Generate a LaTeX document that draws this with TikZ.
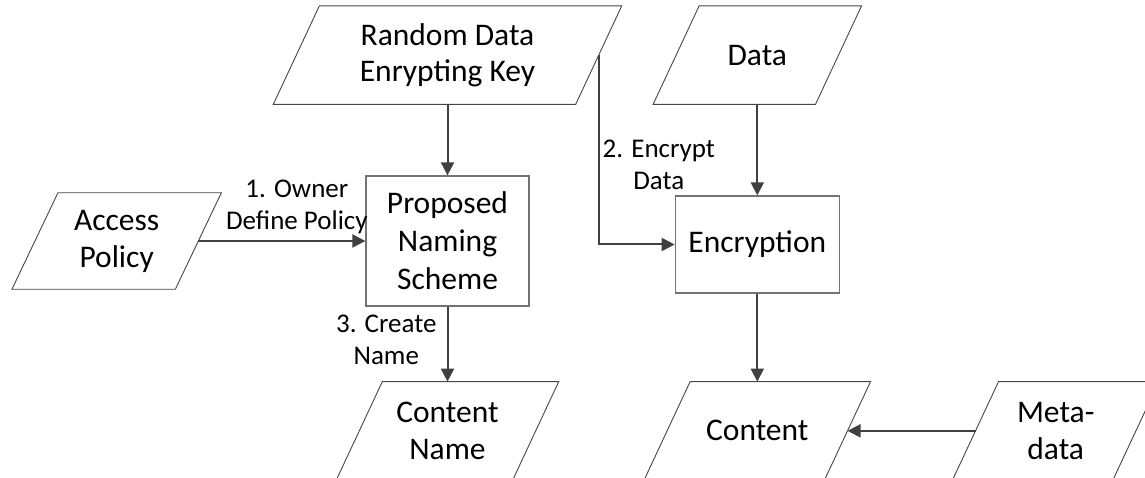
\documentclass[tikz,border=0pt]{standalone}
\usepackage{fontspec}
\setmainfont{Carlito}
\usetikzlibrary{arrows.meta}
\usetikzlibrary{positioning}

\begin{document}
\begin{tikzpicture}[x=1pt, y=1pt,
node distance = 71pt and 167pt,
iobox/.style  = {rectangle, minimum height=98pt, align=center, inner sep=2pt,
                 font=\fontsize{31.5}{37}\selectfont},
ioline/.style = {draw=black!72, line width=0.9pt},
proc/.style   = {rectangle, draw=black!55, line width=1.3pt, align=center,
                 font=\fontsize{31.5}{38}\selectfont},
lbl/.style    = {align=center, inner sep=2pt, font=\fontsize{27}{32}\selectfont},
arr/.style    = {draw=black!75, line width=2pt, -{Triangle[length=13pt,width=13pt]}}
                        ]
\useasboundingbox (0,0) rectangle (1145,-478);
\node (scheme) [proc, minimum width=163pt, minimum height=130pt]
      at (447.5,-241) {Proposed\\Naming\\Scheme};
%
\node (key)    [iobox, above=of scheme, minimum width=302pt,
                font=\fontsize{31.5}{36}\selectfont] {Random Data\\Enrypting Key};
\node (access) [iobox, left=of scheme, minimum width=163pt, minimum height=96pt]
               {Access\\Policy};
\node (cname)  [iobox, below=75pt of scheme, minimum width=176pt] {Content\\Name};
\node (enc)    [proc, right=145pt of scheme, yshift=-3.5pt,
                minimum width=164pt, minimum height=97pt] {Encryption};
\node (data)   [iobox, above=91pt of enc, minimum width=162pt] {Data};
\node (content)[iobox, below=88pt of enc, minimum width=180pt] {Content};
\node (meta)   [iobox, right=128pt of content, minimum width=160pt] {Meta-\\data};
%
\foreach \n in {key,access,cname,data,content,meta}
    \draw[ioline] ([xshift=-23pt]\n.south west) -- ([xshift=23pt]\n.north west)
               -- ([xshift=23pt]\n.north east) -- ([xshift=-23pt]\n.south east) -- cycle;
%
\draw[arr] (key) -- (scheme);
\draw[arr] (access) -- node[lbl, pos=0.59, above=4pt] {1. Owner\\Define Policy} (scheme);
\draw[arr] (key.east) |- node[lbl, pos=0.29, right=1pt] {2. Encrypt\\Data} (enc.west);
\draw[arr] (scheme) -- node[lbl, pos=0.44, left=8pt] {3. Create\\Name} (cname);
\draw[arr] (data) -- (enc);
\draw[arr] (enc) -- (content);
\draw[arr] (meta) -- (content);
\end{tikzpicture}
\end{document}
